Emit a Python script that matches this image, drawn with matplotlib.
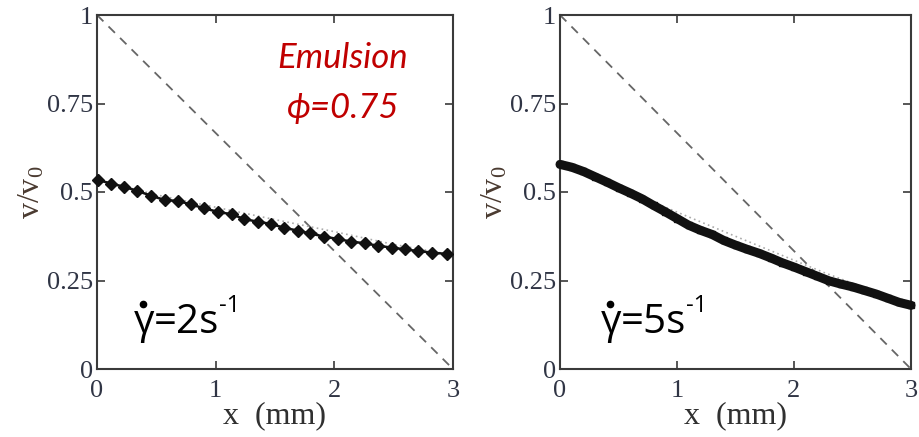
import matplotlib
matplotlib.use("Agg")
import matplotlib.pyplot as plt
from matplotlib.lines import Line2D

# ---- data ----
x_left = [0.011, 0.115, 0.227, 0.340, 0.452, 0.573, 0.680, 0.789, 0.904, 1.017,
          1.135, 1.238, 1.354, 1.466, 1.575, 1.691, 1.794, 1.915, 2.033, 2.140,
          2.258, 2.370, 2.483, 2.595, 2.707, 2.819, 2.946]
y_left = [0.534, 0.524, 0.515, 0.503, 0.490, 0.477, 0.475, 0.465, 0.454, 0.444,
          0.437, 0.424, 0.416, 0.410, 0.399, 0.391, 0.383, 0.374, 0.367, 0.360,
          0.355, 0.348, 0.343, 0.338, 0.333, 0.329, 0.325]
fit_left_x = [0, 0.5, 1.0, 1.5, 2.0, 2.5, 3.0]
fit_left_y = [0.535, 0.492, 0.457, 0.422, 0.388, 0.352, 0.322]

x_right = [0.0, 0.1, 0.2, 0.3, 0.4, 0.5, 0.6, 0.7, 0.8, 0.9, 1.0, 1.1, 1.2, 1.3,
           1.4, 1.5, 1.6, 1.7, 1.8, 1.9, 2.0, 2.1, 2.2, 2.3, 2.4, 2.5, 2.6, 2.7,
           2.8, 2.9, 3.0]
y_right = [0.578, 0.570, 0.558, 0.543, 0.528, 0.512, 0.497, 0.481, 0.462, 0.444,
           0.425, 0.406, 0.392, 0.380, 0.363, 0.350, 0.338, 0.327, 0.314, 0.300,
           0.288, 0.275, 0.262, 0.249, 0.240, 0.232, 0.222, 0.212, 0.200, 0.188,
           0.180]
fit_right_x = [0.0, 0.5, 0.9, 1.44, 2.26, 3.0]
fit_right_y = [0.580, 0.515, 0.457, 0.383, 0.272, 0.180]

ref_x = [0, 3]
ref_y = [1, 0]

xticks = [0, 1, 2, 3]
xtick_labels = ["0", "1", "2", "3"]
yticks = [0, 0.25, 0.5, 0.75, 1]
ytick_labels = ["0", "0.25", "0.5", "0.75", "1"]

W, H = 920, 437
fig = plt.figure(figsize=(W / 100, H / 100), dpi=100)

serif = "Liberation Serif"
tick_color = "#303545"
frame_color = "#3a3a3a"

plt.rcParams["mathtext.fontset"] = "custom"
plt.rcParams["mathtext.rm"] = serif
plt.rcParams["mathtext.it"] = serif

def make_axes(left_px, right_px):
    ax = fig.add_axes([left_px / W, (H - 369) / H, (right_px - left_px) / W, (369 - 15) / H])
    ax.set_xlim(0, 3)
    ax.set_ylim(0, 1)
    ax.set_xticks(xticks)
    ax.set_xticklabels(xtick_labels)
    ax.set_yticks(yticks)
    ax.set_yticklabels(ytick_labels)
    ax.tick_params(direction="in", length=6, width=1.2, top=True, right=True,
                   colors=frame_color, labelcolor=tick_color, labelsize=19)
    ax.tick_params(axis="y", pad=3)
    ax.tick_params(axis="x", pad=8)
    for lab in ax.get_xticklabels() + ax.get_yticklabels():
        lab.set_fontfamily(serif)
    for s in ax.spines.values():
        s.set_color(frame_color)
        s.set_linewidth(1.5)
    ax.set_xlabel("x  (mm)", fontfamily=serif, fontsize=23, color="#303030", labelpad=-1)
    ax.set_ylabel(r"v/v$_0$", fontfamily=serif, fontsize=23, color="#4a3a30", labelpad=0)
    ax.plot(ref_x, ref_y, linestyle=(0, (5, 4)), color="#666666", linewidth=1.3)
    return ax

axL = make_axes(97, 453)
axL.plot(fit_left_x, fit_left_y, linestyle=(0, (1, 2)), color="#aaaaaa", linewidth=1.2, zorder=2)
axL.plot(x_left, y_left, color="#111111", linewidth=1.8, marker="D", markersize=6.5,
         markerfacecolor="#111111", markeredgecolor="#111111", zorder=3, clip_on=False)

axR = make_axes(560, 911)
axR.plot(fit_right_x, fit_right_y, linestyle=(0, (1, 2)), color="#aaaaaa", linewidth=1.2, zorder=2)
axR.plot(x_right, y_right, color="#111111", linewidth=6.5, solid_capstyle="round",
         marker="s", markersize=4, zorder=3, clip_on=False)

# annotations
red = "#C00000"
fam = ["Lato", "DejaVu Sans"]
fig.text(343 / W, 1 - 68 / H, "Emulsion", color=red, style="italic", fontsize=25,
         family=fam, ha="center", va="baseline")
fig.text(343 / W, 1 - 118 / H, "\u03d5=0.75", color=red, style="italic", fontsize=25,
         family=fam, ha="center", va="baseline")

sans = ["Open Sans", "DejaVu Sans"]

def gamma_label(x_px, txt):
    g = fig.text(x_px / W, 1 - 333 / H, "\u03b3", color="black", fontsize=29,
                 family=sans, ha="left", va="baseline")
    fig.canvas.draw()
    gb = g.get_window_extent()
    cx = (gb.x0 + gb.x1) / 2 - 1
    fig.add_artist(Line2D([cx / W], [1 - 304 / H], marker="o", markersize=4.5,
                          color="black", linestyle="none", transform=fig.transFigure))
    t = fig.text((gb.x1 - 1) / W, 1 - 333 / H, "=" + txt + "s", color="black",
                 fontsize=29, family=sans, ha="left", va="baseline")
    fig.canvas.draw()
    bb = t.get_window_extent()
    fig.text((bb.x1 + 0) / W, 1 - 312 / H, "-1", color="black", fontsize=17,
             family=sans, ha="left", va="baseline")

gamma_label(134, "2")
gamma_label(601, "5")

fig.savefig("out.png", dpi=100)
